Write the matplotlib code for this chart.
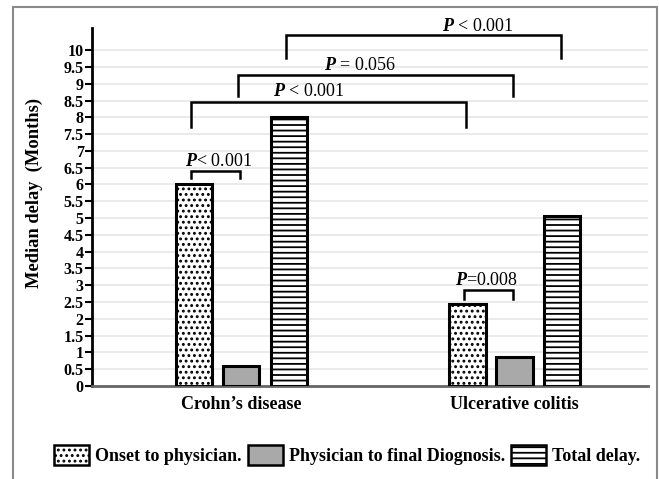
import matplotlib

matplotlib.use("Agg")
import matplotlib.pyplot as plt
import numpy as np
from matplotlib.patches import Patch, Rectangle

plt.rcParams["font.family"] = ["Liberation Serif", "DejaVu Serif"]
plt.rcParams["mathtext.fontset"] = "custom"
plt.rcParams["mathtext.rm"] = "Liberation Serif"
plt.rcParams["mathtext.bfit"] = "Liberation Serif:bold:italic"
plt.rcParams["hatch.linewidth"] = 1.3

CATEGORIES = ["Crohn\u2019s disease", "Ulcerative colitis"]
SERIES = ["Onset to physician.", "Physician to final Diognosis.", "Total delay."]
ONSET_TO_PHYSICIAN = [6.0, 2.45]
PHYSICIAN_TO_DIAGNOSIS = [0.6, 0.85]
TOTAL_DELAY = [8.0, 5.05]
Y_TICKS = np.arange(0, 10.5, 0.5)

# (group, series) pairs for each bracket and its p-value label
COMPARISONS = [
    ((0, 0), (0, 1), "P< 0.001"),
    ((1, 0), (1, 1), "P=0.008"),
    ((0, 0), (1, 0), "P < 0.001"),
    ((0, 1), (1, 1), "P = 0.056"),
    ((0, 2), (1, 2), "P < 0.001"),
]

OFFSETS = [-0.172, 0.0, 0.175]
BAR_W = 0.132
STYLES = [
    dict(facecolor="white", hatch="..."),
    dict(facecolor="#a9a9a9", hatch=None),
    dict(facecolor="white", hatch="---"),
]
# bracket layout: top of bracket, bottom of legs, label x, label y
BRACKET_LAYOUT = [
    (6.4, 6.19, -0.084, 6.68),
    (2.86, 2.58, 0.899, 3.14),
    (8.47, 7.72, 0.249, 8.76),
    (9.26, 8.62, 0.435, 9.54),
    (10.45, 9.76, 0.866, 10.71),
]


def pstring(label):
    head, rest = label[0], label[1:]
    return r"$\mathbfit{" + head + "}$" + rest


fig = plt.figure(figsize=(6.59, 4.79), dpi=100)
ax = fig.add_axes([0.1396, 0.1942, 0.8437, 0.7474])

x = np.arange(len(CATEGORIES))
values = [ONSET_TO_PHYSICIAN, PHYSICIAN_TO_DIAGNOSIS, TOTAL_DELAY]
for i, (vals, style) in enumerate(zip(values, STYLES)):
    ax.bar(x + OFFSETS[i], vals, width=BAR_W, edgecolor="black", linewidth=2.2,
           zorder=3, **style)

for (a, b, label), (top, leg, tx, ty) in zip(COMPARISONS, BRACKET_LAYOUT):
    xa = a[0] + OFFSETS[a[1]] - 0.012
    xb = b[0] + OFFSETS[b[1]] - 0.005
    ax.plot([xa, xa, xb, xb], [leg, top, top, leg], color="black", lw=1.8,
            solid_joinstyle="miter", clip_on=False, zorder=4)
    ax.text(tx, ty, pstring(label), ha="center", va="center", fontsize=13,
            clip_on=False, zorder=5)

ax.set_xlim(-0.545, 1.488)
ax.set_ylim(0, 10.66)
ax.set_yticks(Y_TICKS)
ax.set_yticklabels([f"{v:g}" for v in Y_TICKS], fontweight="bold", fontsize=11.5)
ax.set_xticks(x)
ax.set_xticklabels(CATEGORIES, fontweight="bold", fontsize=13)
ax.tick_params(axis="x", length=0, pad=7)
ax.tick_params(axis="y", length=5, width=1.5, pad=1, direction="out")

for v in Y_TICKS[1:]:
    ax.axhline(v, color="#e6e6e6", lw=1.2, zorder=0)

for side in ["top", "right"]:
    ax.spines[side].set_visible(False)
ax.spines["left"].set_linewidth(2.0)
ax.spines["left"].set_color("black")
ax.spines["bottom"].set_linewidth(2.0)
ax.spines["bottom"].set_color("#666666")

ax.set_ylabel("Median delay  (Months)", fontweight="bold", fontsize=13.3)
ax.yaxis.set_label_coords(-0.088, 0.54)

handles = [Patch(edgecolor="black", linewidth=1.8, **s) for s in STYLES]
fig.legend(handles, SERIES, loc="center", bbox_to_anchor=(0.5266, 0.05), ncol=3,
           frameon=False, prop=dict(weight="bold", size=13),
           handlelength=1.94, handleheight=1.33, handletextpad=0.33,
           columnspacing=0.33, borderaxespad=0)

fig.patches.append(Rectangle((13 / 659, -0.1), (657 - 13) / 659, 1.1 - 7 / 479,
                             transform=fig.transFigure, fill=False,
                             edgecolor="#8a8a8a", linewidth=1.5))

fig.savefig("out.png", dpi=100)
